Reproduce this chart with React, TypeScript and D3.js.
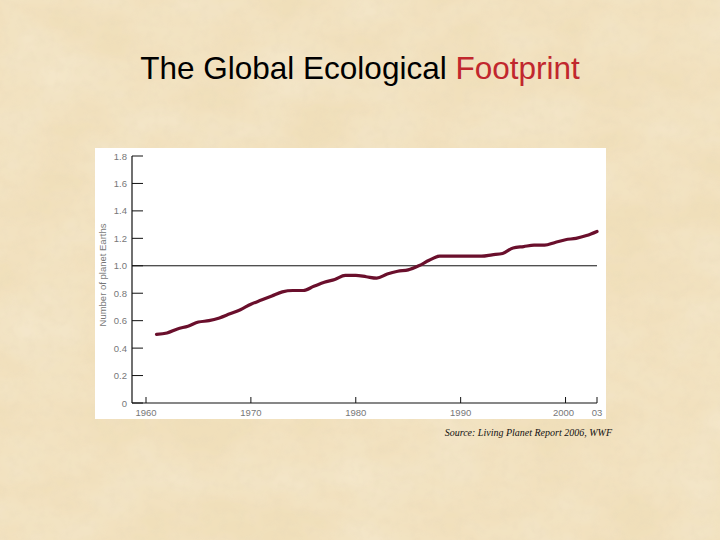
import React from "react";
import * as d3 from "d3";

const years = [1961,1962,1963,1964,1965,1966,1967,1968,1969,1970,1971,1972,1973,1974,1975,1976,1977,1978,1979,1980,1981,1982,1983,1984,1985,1986,1987,1988,1989,1990,1991,1992,1993,1994,1995,1996,1997,1998,1999,2000,2001,2002,2003];
const earths = [0.50,0.51,0.54,0.56,0.59,0.60,0.62,0.65,0.68,0.72,0.75,0.78,0.81,0.82,0.82,0.85,0.88,0.90,0.93,0.93,0.92,0.91,0.94,0.96,0.97,1.00,1.04,1.07,1.07,1.07,1.07,1.07,1.08,1.09,1.13,1.14,1.15,1.15,1.17,1.19,1.20,1.22,1.25];
const yTicks = [0,0.2,0.4,0.6,0.8,1.0,1.2,1.4,1.6,1.8];
const xTicks = [1960,1970,1980,1990,2000,2003];
const xTickLabels = ["1960","1970","1980","1990","2000","03"];
const titleParts = ["The Global Ecological ", "Footprint"];
const yLabel = "Number of planet Earths";
const sourceText = "Source: Living Planet Report 2006, WWF";

export default function App() {
  const x = d3.scaleLinear().domain([1960, 2003]).range([146, 597]);
  const y = d3.scaleLinear().domain([0, 1.8]).range([403, 156]);
  const line = d3.line<number>().x((_, i) => x(years[i])).y((d) => y(d)).curve(d3.curveMonotoneX);
  const axisFont = "Helvetica, Arial, 'Liberation Sans', sans-serif";
  return (
    <svg width={720} height={540} style={{ position: "absolute", left: 0, top: 0 }}>
      <defs>
        <filter id="paper" x="0" y="0" width="100%" height="100%">
          <feTurbulence type="fractalNoise" baseFrequency="0.012 0.02" numOctaves={4} seed={3} result="n" />
          <feColorMatrix in="n" type="matrix"
            values="0 0 0 0 0.95  0 0 0 0 0.86  0 0 0 0 0.69  1.3 0 0 0 -0.35" result="c" />
          <feComposite in="c" in2="SourceGraphic" operator="over" />
        </filter>
        <filter id="grain" x="0" y="0" width="100%" height="100%">
          <feTurbulence type="fractalNoise" baseFrequency="0.11" numOctaves={2} seed={7} result="g" />
          <feColorMatrix in="g" type="matrix"
            values="0 0 0 0 0.82  0 0 0 0 0.70  0 0 0 0 0.50  0 0 0 1.1 -0.45" />
        </filter>
      </defs>
      <rect x={0} y={0} width={720} height={540} fill="#e9d4a9" />
      <rect x={0} y={0} width={720} height={540} fill="#f3e3c0" filter="url(#paper)" opacity={0.75} />
      <rect x={0} y={0} width={720} height={540} filter="url(#grain)" opacity={0.55} />

      <text x={360} y={79} textAnchor="middle" fontFamily="Arial, 'Liberation Sans', sans-serif" fontSize={31.5} fill="#000">
        <tspan>{titleParts[0]}</tspan>
        <tspan fill="#c1272d">{titleParts[1]}</tspan>
      </text>

      <rect x={95} y={148} width={511} height={271} fill="#ffffff" />

      {/* reference line at 1.0 */}
      <line x1={132} x2={597} y1={y(1)} y2={y(1)} stroke="#111" strokeWidth={1} />

      {/* y axis */}
      <line x1={132} x2={132} y1={y(1.8)} y2={y(0)} stroke="#111" strokeWidth={1.2} />
      {yTicks.map((t) => (
        <g key={t}>
          <line x1={132} x2={143} y1={y(t)} y2={y(t)} stroke="#111" strokeWidth={1} />
          <text x={127} y={y(t) + 3.5} textAnchor="end" fontFamily={axisFont} fontSize={9.5} fill="#777">
            {t === 0 ? "0" : t.toFixed(1)}
          </text>
        </g>
      ))}
      <text transform={`translate(106,${275}) rotate(-90)`} textAnchor="middle" fontFamily={axisFont} fontSize={9.5} fill="#777">
        {yLabel}
      </text>

      {/* x axis */}
      <line x1={132} x2={597} y1={y(0)} y2={y(0)} stroke="#111" strokeWidth={1.2} />
      {xTicks.map((t, i) => (
        <g key={t}>
          <line x1={x(t)} x2={x(t)} y1={y(0)} y2={y(0) - 6} stroke="#111" strokeWidth={1} />
          <text x={t === 2000 ? x(t) - 2 : x(t)} y={y(0) + 13} textAnchor="middle" fontFamily={axisFont} fontSize={9.5} fill="#777">
            {xTickLabels[i]}
          </text>
        </g>
      ))}

      <path d={line(earths) || ""} fill="none" stroke="#6a0f2c" strokeWidth={3.2} strokeLinejoin="round" strokeLinecap="round" />

      <text x={612} y={436} textAnchor="end" fontFamily="'Liberation Serif', 'DejaVu Serif', serif" fontStyle="italic" fontSize={10} fill="#111">
        {sourceText}
      </text>
    </svg>
  );
}
